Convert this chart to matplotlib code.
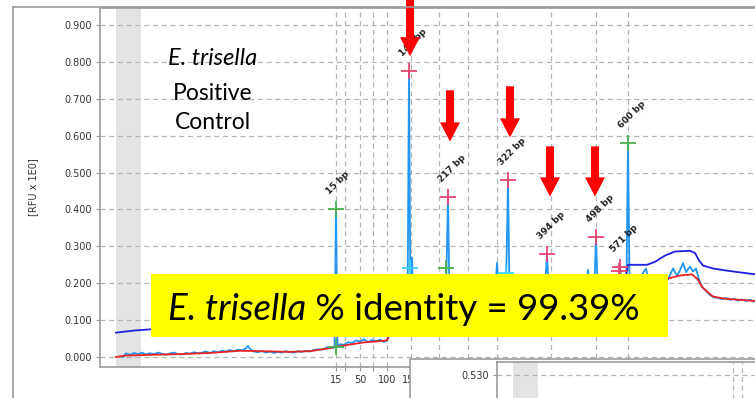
import numpy as np
import matplotlib.pyplot as plt
from matplotlib.patches import Rectangle, FancyArrow
from matplotlib.lines import Line2D
from matplotlib.ticker import FormatStrFormatter

plt.rcParams['font.family'] = ['DejaVu Sans']
LABEL_FONT = ['Lato', 'Open Sans', 'DejaVu Sans']

# size standard: ladder fragment (bp) and its migration time [s]
ladder_bp = [15, 25, 50, 75, 100, 150, 200, 250, 300, 400, 500, 600]
ladder_time = [23.6, 24.5, 26.0, 27.3, 28.7, 31.1, 33.9, 36.8, 39.7, 45.1, 49.6, 52.8]
# labels right of 150 sit under the overlapping panel
ladder_labels = ['15', '', '50', '', '100', '150', '', '', '', '', '', '']

# raw signal (light blue)
raw_time = [
    2.3, 2.6, 3.0, 3.4, 3.8, 4.2, 4.6, 5.0, 5.4, 5.8,
    6.2, 6.6, 7.0, 7.4, 7.8, 8.2, 8.6, 9.0, 9.4, 9.8,
    10.2, 10.6, 11.0, 11.4, 11.8, 12.2, 12.6, 13.0, 13.4, 13.8,
    14.2, 14.6, 14.8, 15.0, 15.4, 15.8, 16.2, 16.6, 17.0, 17.4,
    17.8, 18.2, 18.6, 19.0, 19.4, 19.8, 20.2, 20.6, 21.0, 21.4,
    21.8, 22.2, 22.6, 23.0, 23.3, 23.45, 23.6, 23.75, 24.0, 24.4,
    24.8, 25.2, 25.6, 26.0, 26.4, 26.8, 27.2, 27.6, 28.0, 28.4,
    28.7, 29.0, 29.5, 30.5, 30.75, 30.9, 31.05, 31.2, 31.35, 32.5,
    34.0, 34.55, 34.65, 34.8, 34.95, 36.0, 38.0, 39.5, 39.7, 39.9,
    40.6, 40.8, 40.95, 42.0, 44.5, 44.7, 44.85, 47.0, 48.65, 48.8,
    48.95, 49.45, 49.6, 49.75, 51.85, 52.0, 52.15, 52.65, 52.8, 52.95,
    54.0, 54.6, 54.8, 56.0, 56.8, 57.3, 57.7, 58.0, 58.3, 58.6,
    59.0, 59.3, 59.6, 59.9, 60.2, 60.6, 61.0, 61.4, 61.8, 62.2,
    62.6, 63.0, 63.4, 63.8, 64.2, 64.6, 65.0, 65.4, 65.8, 66.2,
    66.6, 67.0, 67.4, 67.8, 68.2, 68.6, 69.0, 70.0]
raw_rfu = [
    0.000, 0.010, 0.006, 0.011, 0.008, 0.012, 0.007, 0.010, 0.008, 0.012,
    0.009, 0.006, 0.010, 0.012, 0.008, 0.007, 0.011, 0.009, 0.013, 0.010,
    0.012, 0.015, 0.011, 0.016, 0.013, 0.017, 0.015, 0.019, 0.016, 0.020,
    0.018, 0.024, 0.030, 0.022, 0.015, 0.013, 0.016, 0.012, 0.015, 0.011,
    0.014, 0.012, 0.016, 0.013, 0.012, 0.016, 0.014, 0.017, 0.015, 0.019,
    0.021, 0.020, 0.025, 0.028, 0.024, 0.030, 0.400, 0.028, 0.035, 0.033,
    0.040, 0.038, 0.045, 0.042, 0.048, 0.040, 0.046, 0.043, 0.047, 0.041,
    0.045, 0.060, 0.070, 0.090, 0.100, 0.776, 0.120, 0.270, 0.110, 0.120,
    0.130, 0.150, 0.240, 0.435, 0.150, 0.150, 0.160, 0.170, 0.255, 0.170,
    0.180, 0.481, 0.180, 0.180, 0.190, 0.280, 0.190, 0.190, 0.200, 0.236,
    0.200, 0.200, 0.326, 0.200, 0.200, 0.245, 0.200, 0.210, 0.579, 0.210,
    0.215, 0.240, 0.215, 0.220, 0.210, 0.240, 0.220, 0.235, 0.255, 0.230,
    0.245, 0.232, 0.240, 0.210, 0.190, 0.180, 0.168, 0.162, 0.160, 0.157,
    0.160, 0.155, 0.158, 0.153, 0.156, 0.152, 0.155, 0.150, 0.153, 0.149,
    0.152, 0.147, 0.150, 0.145, 0.148, 0.144, 0.147, 0.143]

# smoothed baseline (red)
base_time = [1.6, 2.5, 5.0, 8.0, 11.0, 14.0, 16.0, 19.0, 21.0, 22.5,
             23.5, 25.0, 26.5, 28.0, 28.7, 28.9, 30.0, 35.0, 40.0, 45.0,
             50.0, 55.0, 56.8, 58.0, 59.2, 59.8, 60.2, 60.8, 61.3, 62.5,
             65.0, 67.0, 70.0]
base_rfu = [0.000, 0.004, 0.006, 0.008, 0.011, 0.017, 0.016, 0.014, 0.016, 0.022,
            0.027, 0.034, 0.040, 0.043, 0.045, 0.062, 0.075, 0.120, 0.150, 0.170,
            0.190, 0.205, 0.213, 0.221, 0.224, 0.210, 0.190, 0.175, 0.164, 0.158,
            0.153, 0.149, 0.145]

# reference trace (dark blue)
ref_time = [1.6, 2.5, 3.5, 5.0, 20.0, 40.0, 52.5, 52.8, 54.7, 55.5, 56.5,
            57.5, 59.0, 59.5, 59.9, 60.3, 61.3, 63.0, 65.0, 67.0, 69.0, 70.0]
ref_rfu = [0.066, 0.069, 0.072, 0.075, 0.100, 0.170, 0.210, 0.250, 0.250, 0.258, 0.275,
           0.286, 0.288, 0.282, 0.262, 0.248, 0.240, 0.233, 0.226, 0.219, 0.212, 0.208]

# called peaks
peak_time = [23.6, 30.9, 34.8, 40.8, 44.7, 49.6, 52.0, 52.8]
peak_rfu = [0.400, 0.776, 0.435, 0.481, 0.280, 0.326, 0.245, 0.579]
peak_label = ['15 bp', '146 bp', '217 bp', '322 bp', '394 bp', '498 bp', '571 bp', '600 bp']
peak_kind = ['marker', 'sample', 'sample', 'sample', 'sample', 'sample', 'sample', 'marker']

# secondary peak calls
extra_time = [23.55, 31.0, 34.6, 40.6, 51.9]
extra_rfu = [0.027, 0.240, 0.242, 0.228, 0.232]
extra_kind = ['marker', 'shoulder', 'marker', 'shoulder', 'sample']

# highlighted bands (red arrows)
arrow_time = [31.0, 35.0, 41.0, 45.0, 49.5]
arrow_top = [0.970, 0.723, 0.734, 0.571, 0.571]
arrow_tip = [0.815, 0.584, 0.595, 0.435, 0.435]

kind_color = {'marker': '#4caf50', 'sample': '#e8456e', 'shoulder': '#3fd3f2'}
GRID = dict(linestyle=(0, (4, 3)), color='#b4b4b4', linewidth=0.9)

W, H = 755, 398
fig = plt.figure(figsize=(W / 100, H / 100), dpi=100)

# main electropherogram
ax = fig.add_axes([100 / W, 31 / H, 700 / W, 359 / H])
ax.set_xlim(0, 70)
ax.set_ylim(-0.027, 0.946)
ax.axvspan(1.6, 4.1, color='#e3e3e3', lw=0, zorder=0)

ax.plot(raw_time, raw_rfu, color='#2196f3', lw=1.3, zorder=2)
ax.plot(base_time, base_rfu, color='#e82222', lw=1.3, zorder=2.5)
ax.plot(ref_time, ref_rfu, color='#1f1fe0', lw=1.3, zorder=2.6)

for t, v, k in zip(peak_time, peak_rfu, peak_kind):
    ax.plot(t, v, marker='+', ms=11, mew=1.3, color=kind_color[k], zorder=3)
for t, v, k in zip(extra_time, extra_rfu, extra_kind):
    ax.plot(t, v, marker='+', ms=11, mew=1.3, color=kind_color[k], zorder=3)
for t, v, s in zip(peak_time, peak_rfu, peak_label):
    ax.annotate(s, xy=(t, v), xytext=(-5, 13), textcoords='offset pixels',
                rotation=45, rotation_mode='anchor', ha='left', va='bottom',
                fontsize=6.5, fontweight='bold', color='#222222', zorder=4)

for t, top, tip in zip(arrow_time, arrow_top, arrow_tip):
    ax.add_patch(FancyArrow(t, top, 0, tip - top, width=0.8, head_width=2.0,
                            head_length=0.052, length_includes_head=True,
                            color='#ff0000', lw=0, zorder=7, clip_on=False))

ax.set_yticks(np.arange(0, 0.95, 0.1))
ax.yaxis.set_major_formatter(FormatStrFormatter('%.3f'))
ax.set_xticks(ladder_time)
ax.set_xticklabels(ladder_labels)
ax.grid(True, **GRID)
ax.set_axisbelow(True)
ax.tick_params(labelsize=7, labelcolor='#333333', color='#999999', length=3, pad=3)
for side in ['left', 'bottom', 'top']:
    ax.spines[side].set_color('#9a9a9a')
    ax.spines[side].set_linewidth(1.2)
ax.spines['right'].set_visible(False)
ax.set_ylabel('[RFU x 1E0]', fontsize=7, color='#333333')
ax.yaxis.set_label_coords(-0.088, 0.5)

# sample note
ax.text(11.3, 0.791, 'E. trisella', fontsize=17, style='italic', ha='center',
        va='baseline', family=LABEL_FONT, zorder=6)
ax.text(11.3, 0.698, 'Positive', fontsize=16.5, ha='center', va='baseline',
        family=LABEL_FONT, zorder=6)
ax.text(11.3, 0.617, 'Control', fontsize=16.5, ha='center', va='baseline',
        family=LABEL_FONT, zorder=6)

# identity banner
ax.add_patch(Rectangle((5.1, 0.0543), 51.7, 0.1712, facecolor='#ffff00',
                       edgecolor='none', zorder=5))
name = ax.text(6.8, 0.1005, 'E. trisella', fontsize=26.4, style='italic',
               ha='left', va='baseline', family=LABEL_FONT, zorder=6)
ax.annotate(' % identity = 99.39%', xy=(1, 0), xycoords=name, ha='left',
            va='bottom', fontsize=26.4, family=LABEL_FONT, zorder=6)

# screenshot frame
fig.add_artist(Line2D([13 / W, 13 / W], [0, 1 - 7 / H], color='#9a9a9a', lw=1.2))
fig.add_artist(Line2D([13 / W, 1], [1 - 7 / H, 1 - 7 / H], color='#9a9a9a', lw=1.2))

# overlapping second panel
fig.add_artist(Rectangle((410 / W, -0.1), 0.6, 0.1 + 39 / H, transform=fig.transFigure,
                         facecolor='white', edgecolor='#9a9a9a', lw=1.2, zorder=1))
ax2 = fig.add_axes([497 / W, -0.5, 700 / W, 0.5 + 36 / H], zorder=2)
ax2.set_xlim(0, 70)
ax2.set_ylim(-0.0368, 0.5632)
ax2.axvspan(1.6, 4.1, color='#e3e3e3', lw=0, zorder=0)
ax2.set_yticks([0.530])
ax2.yaxis.set_major_formatter(FormatStrFormatter('%.3f'))
ax2.set_xticks(ladder_time)
ax2.set_xticklabels([])
ax2.grid(True, **GRID)
ax2.set_axisbelow(True)
ax2.tick_params(labelsize=7, labelcolor='#333333', color='#999999', length=3, pad=3)
for side in ['left', 'top']:
    ax2.spines[side].set_color('#9a9a9a')
    ax2.spines[side].set_linewidth(1.2)
ax2.spines['right'].set_visible(False)

fig.savefig('out.png', dpi=100)
